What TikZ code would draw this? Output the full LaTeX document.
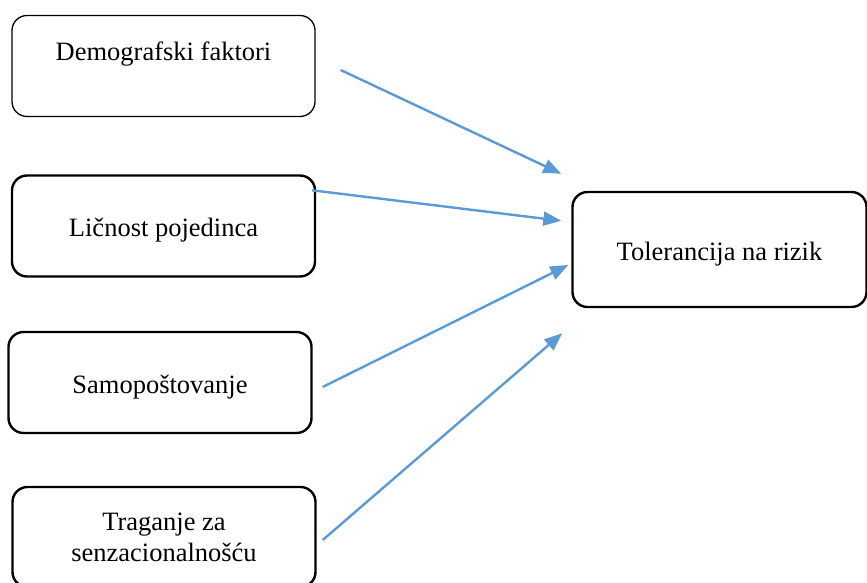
\documentclass[tikz,border=0pt]{standalone}
\usepackage{fontspec}
\setmainfont{Liberation Serif}
\usetikzlibrary{arrows.meta, positioning}
\definecolor{plava}{HTML}{5B9BD5}
\tikzstyle{kutija} = [draw=black, line width=2.4pt, rectangle, rounded corners=15pt, minimum width=303pt, minimum height=101pt, align=center, text height=27pt, text depth=6pt, font=\fontsize{26.5}{31}\selectfont]
\tikzstyle{strelica} = [draw=plava, line width=2.4pt, -{Triangle[length=18pt, width=14pt]}]

\begin{document}
\begin{tikzpicture}[x=1pt, y=1pt]
	\useasboundingbox (0,0) rectangle (867,-583);
	\clip (0,0) rectangle (867,-583);
	\node [kutija, line width=1.3pt, text height=20pt, text depth=30pt] (demo) at (163.5,-66) {Demografski faktori};
	\node [kutija] (licnost) at (163.5,-226) {Ličnost pojedinca};
	\node [kutija] (samo) at (160,-382.5) {Samopoštovanje};
	\node [kutija, minimum height=100pt, text height=, text depth=] (trag) at (164,-537) {Traganje za\\senzacionalnošću};
	\node [kutija, minimum width=294pt, minimum height=115pt] (tol) at (719.5,-249.5) {Tolerancija na rizik};
	\draw [strelica] ([xshift=25pt, yshift=-4pt]demo.east) -- ([xshift=-10pt, yshift=17pt]tol.north west);
	\draw [strelica] ([xshift=-4pt, yshift=-16pt]licnost.north east) -- ([xshift=-10pt, yshift=-30pt]tol.north west);
	\draw [strelica] ([xshift=10pt, yshift=-4.5pt]samo.east) -- ([xshift=-3pt, yshift=-15.5pt]tol.west);
	\draw [strelica] ([xshift=6pt, yshift=-3pt]trag.east) -- ([xshift=-9pt, yshift=-25pt]tol.south west);
\end{tikzpicture}
\end{document}
